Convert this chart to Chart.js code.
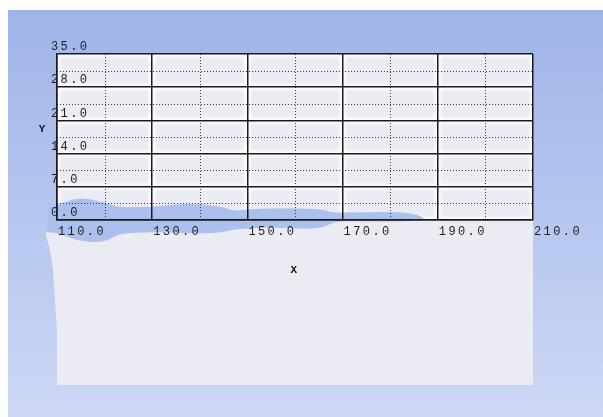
<!DOCTYPE html>
<html><head><meta charset="utf-8">
<script src="https://cdn.jsdelivr.net/npm/chart.js@4"></script>
<style>html,body{margin:0;padding:0;background:#fff;overflow:hidden}</style>
</head><body>
<canvas id="c" width="603" height="417"></canvas>
<script>
const xTickValues = [110, 130, 150, 170, 190, 210];
const yTickValues = [0, 7, 14, 21, 28, 35];
const xMinorValues = [120, 140, 160, 180, 200];
const yMinorValues = [3.5, 10.5, 17.5, 24.5, 31.5];
const xTitle = 'X';
const yTitle = 'Y';
const bandX     = [108, 110, 114.8, 119.7, 123.2, 129.5, 132.7, 135.8, 140, 144.2, 147.4, 149.9, 154.7, 161, 165.3, 168.4, 170.5, 173.7, 182.1, 185.2, 186.9];
const bandUpper = [3.4, 3.2, 4.4, 3.6, 2.7, 2.7, 2.95, 3.2, 3.2, 2.7, 1.9, 2.1, 2.3, 2.3, 2.1, 1.5, 1.5, 1.5, 1.5, 1.05, 0.42];
const bandLower = [-2.5, -2.7, -4.2, -4.4, -2.95, -2.5, -2.5, -2.6, -2.7, -2.5, -1.9, -1.7, -1.5, -1.7, -1.5, -0.4, -0.2, -0.2, -0.2, 0, 0.42];

const FONT = 'Liberation Mono';
const lineColor = '#1a1a1a';
const bandColor = 'rgb(172,192,237)';
const panelColor = '#ebebf4';

const decor = {
  id: 'decor',
  beforeDraw(chart) {
    const ctx = chart.ctx;
    ctx.save();
    ctx.fillStyle = '#ffffff';
    ctx.fillRect(0, 0, chart.width, chart.height);
    const g = ctx.createLinearGradient(0, 10, 0, chart.height);
    g.addColorStop(0, '#9fb4e9');
    g.addColorStop(1, '#ccd8f4');
    ctx.fillStyle = g;
    ctx.fillRect(8, 10, chart.width - 8, chart.height - 10);
    ctx.restore();
    ctx.letterSpacing = '2.4px';
  },
  beforeDatasetsDraw(chart) {
    const ctx = chart.ctx;
    const a = chart.chartArea;
    const L = a.left, R = a.right, T = a.top, B = a.bottom;
    ctx.save();
    ctx.fillStyle = panelColor;
    ctx.beginPath();
    ctx.moveTo(L, T);
    ctx.lineTo(R, T);
    ctx.lineTo(R, B + 165);
    ctx.lineTo(L, B + 165);
    ctx.lineTo(L, B + 110);
    ctx.lineTo(L - 2, B + 80);
    ctx.lineTo(L - 4, B + 50);
    ctx.lineTo(L - 7, B + 30);
    ctx.lineTo(L - 11, B + 15);
    ctx.lineTo(L - 11, B + 12);
    ctx.lineTo(L, B + 12);
    ctx.closePath();
    ctx.fill();
    // soft white glow along the major grid lines inside the plot
    ctx.beginPath();
    ctx.rect(L, T, R - L, B - T);
    ctx.clip();
    ctx.filter = 'blur(1.5px)';
    ctx.strokeStyle = 'rgba(255,255,255,0.9)';
    ctx.lineWidth = 6;
    ctx.beginPath();
    const xs = chart.scales.x, ys = chart.scales.y;
    xTickValues.forEach(v => { const px = xs.getPixelForValue(v); ctx.moveTo(px, T); ctx.lineTo(px, B); });
    yTickValues.forEach(v => { const py = ys.getPixelForValue(v); ctx.moveTo(L, py); ctx.lineTo(R, py); });
    ctx.stroke();
    ctx.restore();
    chart.$saved = {bottom: a.bottom, left: a.left};
    a.bottom += 40;
    a.left -= 15;
  },
  afterDatasetsDraw(chart) {
    const a = chart.chartArea;
    if (chart.$saved) { a.bottom = chart.$saved.bottom; a.left = chart.$saved.left; }
    const ctx = chart.ctx;
    const xs = chart.scales.x, ys = chart.scales.y;
    ctx.save();
    ctx.strokeStyle = '#3a3a3a';
    ctx.lineWidth = 1;
    ctx.setLineDash([1, 2]);
    ctx.beginPath();
    xMinorValues.forEach(v => {
      const px = Math.round(xs.getPixelForValue(v)) + 0.5;
      ctx.moveTo(px, a.top); ctx.lineTo(px, a.bottom);
    });
    yMinorValues.forEach(v => {
      const py = Math.round(ys.getPixelForValue(v)) + 0.5;
      ctx.moveTo(a.left, py); ctx.lineTo(a.right, py);
    });
    ctx.stroke();
    ctx.restore();
  },
  afterDraw(chart) {
    const ctx = chart.ctx;
    const a = chart.chartArea;
    ctx.save();
    ctx.letterSpacing = '0px';
    ctx.font = 'bold 11px "' + FONT + '"';
    ctx.fillStyle = '#111';
    ctx.textAlign = 'center';
    ctx.textBaseline = 'middle';
    ctx.fillText(yTitle, a.left - 15, a.top + 75);
    ctx.restore();
  }
};

const tickFont = {family: FONT, size: 12};

new Chart(document.getElementById('c'), {
  type: 'line',
  data: {
    datasets: [
      {
        data: bandX.map((x, i) => ({x: x, y: bandLower[i]})),
        borderColor: bandColor, borderWidth: 1, backgroundColor: bandColor,
        pointRadius: 0, tension: 0.4, fill: false, clip: false
      },
      {
        data: bandX.map((x, i) => ({x: x, y: bandUpper[i]})),
        borderColor: bandColor, borderWidth: 1, backgroundColor: bandColor,
        pointRadius: 0, tension: 0.4, fill: '-1', clip: false
      }
    ]
  },
  options: {
    responsive: false,
    animation: false,
    events: [],
    layout: {padding: {left: 57, right: 70, top: 54, bottom: 137}},
    plugins: {legend: {display: false}, tooltip: {enabled: false}},
    scales: {
      x: {
        type: 'linear', min: xTickValues[0], max: xTickValues[xTickValues.length - 1],
        afterBuildTicks: s => { s.ticks = xTickValues.map(v => ({value: v})); },
        afterFit: s => { s.height = 60; },
        grid: {color: lineColor, lineWidth: 1.5, drawTicks: false, z: 1},
        border: {display: true, color: lineColor, width: 1.5, z: 1},
        ticks: {align: 'start', padding: 5, labelOffset: 1, color: '#1e1e1e', font: tickFont, z: 2,
                maxRotation: 0, autoSkip: false, callback: v => Number(v).toFixed(1)},
        title: {display: true, text: xTitle, color: '#111',
                font: {family: FONT, size: 11, weight: 'bold'}, padding: {top: 3, bottom: 3}}
      },
      y: {
        type: 'linear', min: yTickValues[0], max: yTickValues[yTickValues.length - 1],
        afterBuildTicks: s => { s.ticks = yTickValues.map(v => ({value: v})); },
        afterFit: s => { s.width = 0; },
        grid: {color: lineColor, lineWidth: 1.5, drawTicks: false, z: 1},
        border: {display: true, color: lineColor, width: 1.5, z: 1},
        ticks: {mirror: true, padding: -6, labelOffset: -7, color: '#1e1e1e', font: tickFont, z: 2,
                autoSkip: false, callback: v => Number(v).toFixed(1)}
      }
    }
  },
  plugins: [decor]
});
</script>
</body></html>
